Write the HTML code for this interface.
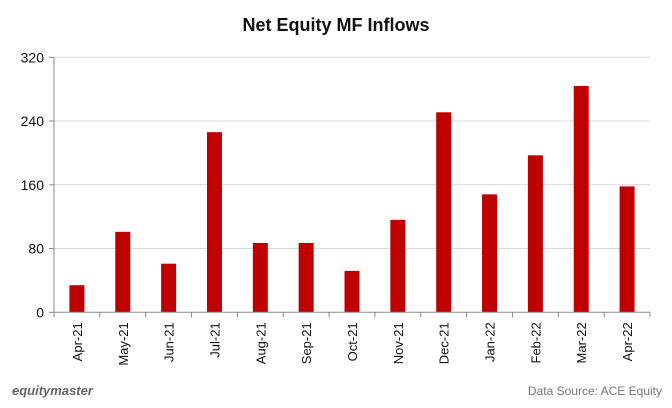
<!DOCTYPE html>
<html><head><meta charset="utf-8"><style>
body{margin:0;background:#fff;}
svg{display:block;font-family:"Liberation Sans",sans-serif;}
</style></head><body>
<svg id="chart" width="672" height="408" viewBox="0 0 672 408">
<text x="336" y="31" text-anchor="middle" font-size="18" font-weight="bold" fill="#111">Net Equity MF Inflows</text>
<g id="grid"></g><g id="bars"></g><g id="axes"></g>
<text x="12" y="395" font-size="13" font-style="italic" font-weight="bold" fill="#666">equitymaster</text>
<text x="662" y="395" text-anchor="end" font-size="12" fill="#777">Data Source: ACE Equity</text>
</svg>
<script>
const categories=["Apr-21","May-21","Jun-21","Jul-21","Aug-21","Sep-21","Oct-21","Nov-21","Dec-21","Jan-22","Feb-22","Mar-22","Apr-22"];
const values=[34,101,61,226,87,87,52,116,251,148,197,284,158];
const yTicks=[0,80,160,240,320];
const NS="http://www.w3.org/2000/svg";
const L=54,R=650,Y0=312.3,Y1=57.3,YMAX=320;
const y=v=>Y0-(v/YMAX)*(Y0-Y1);
const bw=(R-L)/categories.length;
const x=i=>L+bw*(i+0.5);
function mk(t,a,p){const e=document.createElementNS(NS,t);for(const k in a)e.setAttribute(k,a[k]);p.appendChild(e);return e;}
const grid=document.getElementById('grid'),bars=document.getElementById('bars'),axes=document.getElementById('axes');
yTicks.forEach(t=>{
  if(t>0){const g=mk('line',{x1:L,x2:R,y1:y(t),y2:y(t),stroke:'#d9d9d9','stroke-width':1},grid);
  
  }
  const tk=mk('line',{x1:L-5,x2:L,y1:y(t),y2:y(t),stroke:'#888'},axes);
  
  
  const lb=mk('text',{x:L-10,y:y(t)+5,'text-anchor':'end','font-size':14,fill:'#111'},axes);
  lb.textContent=t;
  
  
});
values.forEach((v,i)=>{
  const b=mk('rect',{x:x(i)-7.5,y:y(v),width:15,height:Y0-y(v),fill:'#c00000'},bars);
  
  
  const lb=mk('text',{transform:`translate(${x(i)+5},${Y0+10}) rotate(-90)`,'text-anchor':'end','font-size':13,fill:'#111'},axes);
  lb.textContent=categories[i];
  
  
});
for(let i=0;i<=categories.length;i++){
  const t=mk('line',{x1:L+bw*i,x2:L+bw*i,y1:Y0,y2:Y0+5,stroke:'#888'},axes);
  
  
}
const xa=mk('line',{x1:L,x2:R,y1:Y0,y2:Y0,stroke:'#888'},axes);


const ya=mk('line',{x1:L,x2:L,y1:Y1,y2:Y0,stroke:'#888'},axes);


</script>
</body></html>
